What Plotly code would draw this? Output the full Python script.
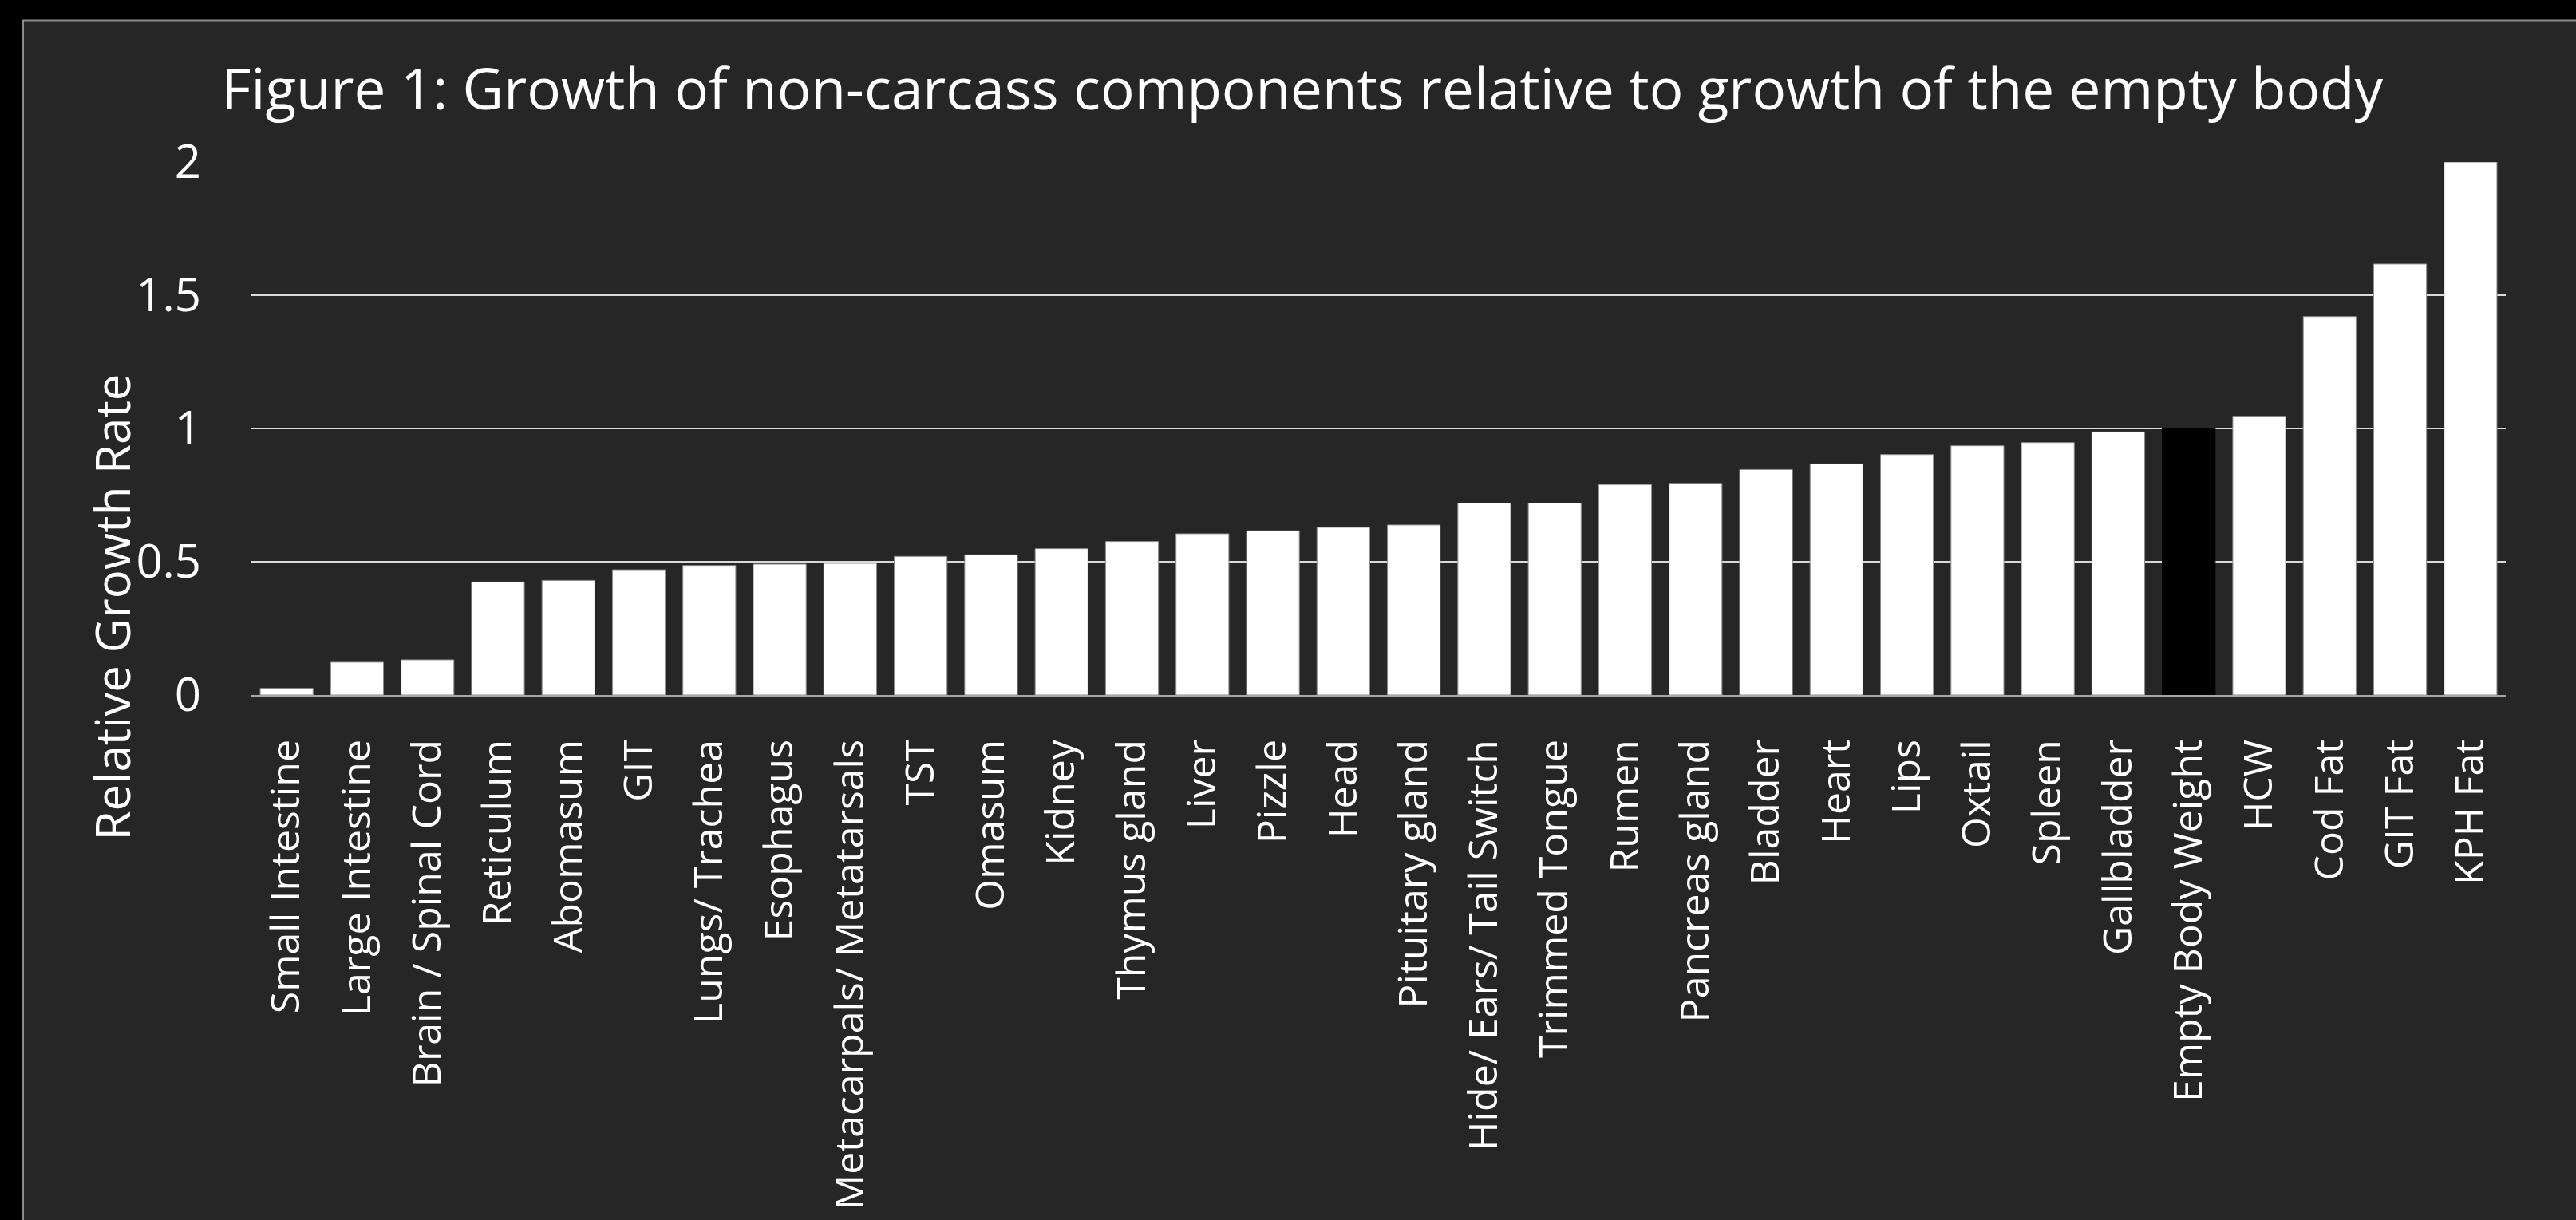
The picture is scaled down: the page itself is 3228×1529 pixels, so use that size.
import plotly.graph_objects as go

categories = [
    "Small Intestine", "Large Intestine", "Brain / Spinal Cord", "Reticulum", "Abomasum",
    "GIT", "Lungs/ Trachea", "Esophagus", "Metacarpals/ Metatarsals", "TST", "Omasum",
    "Kidney", "Thymus gland", "Liver", "Pizzle", "Head", "Pituitary gland",
    "Hide/ Ears/ Tail Switch", "Trimmed Tongue", "Rumen", "Pancreas gland", "Bladder",
    "Heart", "Lips", "Oxtail", "Spleen", "Gallbladder", "Empty Body Weight", "HCW",
    "Cod Fat", "GIT Fat", "KPH Fat",
]
values = [
    0.025, 0.123, 0.132, 0.424, 0.430, 0.470, 0.486, 0.491, 0.494, 0.520, 0.526,
    0.549, 0.576, 0.605, 0.616, 0.629, 0.638, 0.720, 0.720, 0.790, 0.794, 0.846,
    0.867, 0.902, 0.935, 0.947, 0.987, 1.000, 1.046, 1.420, 1.617, 2.000,
]
highlight = "Empty Body Weight"
y_ticks = [0, 0.5, 1, 1.5, 2]
y_tick_labels = ["0", "0.5", "1", "1.5", "2"]

title_text = "Figure 1: Growth of non-carcass components relative to growth of the empty body"
y_title = "Relative Growth Rate"

W, H = 3228, 1529
L, R, T, B = 315, 3140, 203, 880  # plot area in pixels
pw, ph = R - L, B - T

def px_x(x):
    return (x - L) / pw

def px_y(y):
    return (B - y) / ph

colors = ["#000000" if c == highlight else "#ffffff" for c in categories]
line_colors = ["#000000" if c == highlight else "#8c8c8c" for c in categories]

font = "Open Sans"

fig = go.Figure()
fig.add_trace(go.Bar(
    x=categories, y=values,
    marker=dict(color=colors, line=dict(color=line_colors, width=1)),
    hoverinfo="x+y",
))

fig.update_layout(
    width=W, height=H,
    margin=dict(l=L, r=W - R, t=T, b=H - B),
    paper_bgcolor="#000000",
    plot_bgcolor="rgba(0,0,0,0)",
    bargap=0.25,
    showlegend=False,
    font=dict(family=font, color="#ffffff"),
    title=dict(
        text=title_text,
        x=1632 / W, xanchor="center", xref="container",
        y=1 - 112 / H, yanchor="middle", yref="container",
        font=dict(family=font, size=71, color="#ffffff"),
    ),
    xaxis=dict(
        type="category",
        tickangle=-90,
        tickfont=dict(family=font, size=50, color="#ffffff"),
        showgrid=False,
        showline=True, linecolor="#a6a6a6", linewidth=2,
        ticks="",
        ticklabelstandoff=34,
        range=[-0.5, len(categories) - 0.5],
    ),
    yaxis=dict(
        range=[0, 2],
        tickvals=y_ticks, ticktext=y_tick_labels,
        tickfont=dict(family=font, size=58, color="#ffffff"),
        showgrid=True, gridcolor="#d9d9d9", gridwidth=2,
        zeroline=False, showline=False,
        ticks="",
        ticklabelstandoff=62,
    ),
    shapes=[dict(
        type="rect", xref="paper", yref="paper", layer="below",
        x0=px_x(29), x1=px_x(W + 20), y0=px_y(H + 20), y1=px_y(23),
        fillcolor="#262626", line=dict(color="#8c8c8c", width=2),
    )],
    annotations=[dict(
        text=y_title, xref="paper", yref="paper",
        x=px_x(140), y=px_y(769), xanchor="center", yanchor="middle",
        textangle=-90, showarrow=False,
        font=dict(family=font, size=60, color="#ffffff"),
    )],
)

fig.write_html("out.html")
